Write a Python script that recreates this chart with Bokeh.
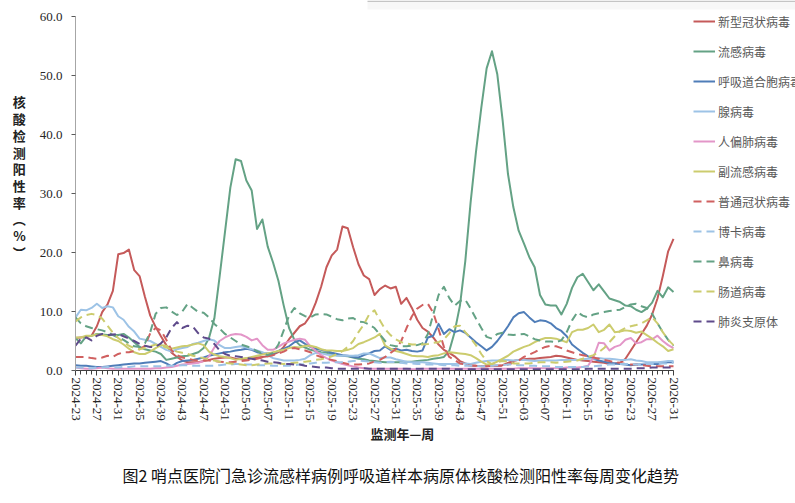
import math
from bokeh.plotting import figure
from bokeh.models import (Range1d, FixedTicker, Legend, LegendItem, Title, NumeralTickFormatter,
                          BoxAnnotation)
from bokeh.embed import file_html
from bokeh.resources import INLINE

# ---- categories (monitoring year-week) ----
week_labels = ([f"2024-{w:02d}" for w in range(23, 53)] +
               [f"2025-{w:02d}" for w in range(1, 53)] +
               [f"2026-{w:02d}" for w in range(1, 32)])

tick_labels = ["2024-23", "2024-27", "2024-31", "2024-35", "2024-39", "2024-43", "2024-47",
               "2024-51", "2025-03", "2025-07", "2025-11", "2025-15", "2025-19", "2025-23",
               "2025-27", "2025-31", "2025-35", "2025-39", "2025-43", "2025-47", "2025-51",
               "2026-03", "2026-07", "2026-11", "2026-15", "2026-19", "2026-23", "2026-27",
               "2026-31"]

y_ticks = [0, 10, 20, 30, 40, 50, 60]

# ---- series values (positive rate, %) ----
sars_cov2 = [5.5, 5.6, 5.7, 5.9, 7.5, 9.9, 11.2, 13.5, 19.7, 19.9,
             20.5, 17.0, 16.0, 12.5, 9.3, 7.4, 5.8, 4.3, 3.0, 2.3,
             1.7, 1.4, 1.4, 1.4, 1.6, 1.8, 2.0, 2.1, 2.2, 2.2,
             2.0, 1.9, 2.0, 2.1, 2.2, 2.3, 2.4, 2.7, 3.1, 4.0,
             5.3, 6.4, 7.5, 8.0, 9.3, 11.5, 14.2, 17.5, 19.5, 20.5,
             24.4, 24.1, 20.9, 18.0, 16.1, 15.5, 12.8, 13.8, 14.4, 13.9,
             14.2, 11.3, 12.3, 10.6, 8.6, 7.2, 6.6, 5.6, 4.4, 3.5,
             3.0, 2.4, 1.6, 1.2, 0.9, 0.8, 0.7, 0.7, 0.8, 0.8,
             0.9, 1.3, 1.6, 1.8, 1.9, 2.0, 2.0, 2.1, 2.2, 2.3,
             2.5, 2.4, 2.2, 2.0, 1.8, 1.7, 1.6, 1.5, 1.4, 1.3,
             1.1, 1.2, 1.3, 2.0, 3.4, 4.8, 6.2, 7.6, 9.5, 12.2,
             16.0, 20.2, 22.3]

influenza = [5.5, 4.6, 5.8, 5.9, 6.2, 6.1, 6.0, 6.0, 6.0, 6.2,
             5.6, 4.8, 4.0, 3.6, 3.4, 3.2, 2.8, 1.8, 2.0, 2.2,
             2.4, 2.5, 2.8, 3.1, 3.8, 5.5, 8.8, 16.0, 23.5, 31.0,
             35.8, 35.5, 32.2, 30.5, 24.0, 25.6, 21.0, 18.3, 15.2, 11.0,
             7.2, 5.2, 4.3, 3.9, 3.5, 3.3, 3.1, 3.0, 2.8, 2.6,
             2.5, 2.4, 2.2, 2.0, 1.9, 1.7, 1.6, 1.5, 1.4, 1.4,
             1.4, 1.4, 1.5, 1.5, 1.6, 1.7, 1.8, 2.0, 2.1, 2.3,
             3.3, 6.5, 11.0, 18.5, 28.5, 37.0, 44.5, 51.2, 54.1, 50.2,
             42.4, 33.3, 27.7, 23.7, 21.5, 19.2, 17.5, 12.8, 11.2, 11.0,
             11.0, 9.5, 11.3, 14.0, 15.8, 16.4, 15.0, 13.6, 14.6, 13.4,
             12.2, 11.9, 11.6, 11.0, 10.9, 10.3, 9.9, 10.5, 11.5, 13.5,
             12.4, 14.1, 13.3]

rsv = [0.9, 0.8, 0.8, 0.7, 0.6, 0.6, 0.7, 0.8, 0.9, 1.0,
       1.1, 1.2, 1.2, 1.3, 1.4, 1.5, 1.6, 1.2, 0.7, 1.3,
       1.6, 1.7, 1.8, 2.0, 2.2, 2.5, 2.7, 2.9, 3.1, 3.2,
       3.4, 3.5, 3.7, 3.5, 3.1, 2.9, 2.9, 2.9, 3.3, 3.7,
       4.1, 4.8, 5.1, 4.5, 4.0, 3.7, 3.5, 3.3, 3.0, 2.8,
       2.6, 2.5, 2.3, 2.2, 2.6, 2.9, 3.3, 3.4, 4.1, 3.5,
       3.7, 3.4, 3.5, 3.3, 3.2, 3.4, 5.6, 5.9, 7.9, 6.2,
       7.0, 6.5, 6.8, 6.4, 5.6, 4.8, 4.1, 3.4, 4.0, 5.0,
       6.2, 7.5, 9.0, 9.7, 9.9, 9.0, 8.2, 8.5, 8.4, 8.0,
       7.2, 6.7, 5.8, 4.4, 3.7, 3.0, 2.4, 2.0, 1.7, 1.5,
       1.3, 1.2, 1.1, 1.0, 0.9, 1.0, 1.0, 1.0, 1.1, 1.1,
       1.3, 1.4, 1.4]

adenovirus = [9.0, 10.3, 10.2, 10.6, 11.3, 10.6, 10.9, 10.7, 9.2, 8.6,
              7.4, 6.6, 5.4, 5.2, 5.0, 4.5, 4.0, 3.5, 3.2, 3.6,
              3.8, 4.0, 4.5, 4.7, 5.0, 5.3, 5.1, 4.3, 3.8, 3.8,
              4.0, 4.1, 3.9, 3.6, 3.4, 3.1, 2.6, 2.1, 1.9, 1.7,
              1.7, 1.7, 1.8, 2.0, 2.6, 3.0, 2.9, 2.7, 2.6, 2.5,
              2.5, 2.5, 2.5, 2.6, 2.9, 2.9, 2.5, 2.1, 2.2, 2.2,
              1.9, 1.7, 1.5, 1.4, 1.4, 1.4, 1.3, 1.2, 1.1, 1.1,
              1.1, 1.1, 1.2, 1.2, 1.1, 1.3, 1.5, 1.6, 1.7, 1.7,
              1.8, 1.8, 1.7, 1.8, 1.8, 1.7, 1.6, 1.7, 1.7, 1.7,
              1.7, 1.8, 1.8, 1.8, 1.8, 1.9, 2.0, 2.0, 2.1, 2.0,
              2.0, 1.9, 1.8, 1.8, 1.9, 1.7, 1.6, 1.4, 1.4, 1.4,
              1.5, 1.6, 1.6]

hmpv = [0.5, 0.4, 0.3, 0.3, 0.4, 0.5, 0.4, 0.3, 0.3, 0.3,
        0.3, 0.3, 0.3, 0.3, 0.3, 0.4, 0.4, 0.5, 0.6, 0.8,
        1.0, 1.1, 1.2, 1.3, 1.6, 2.4, 3.9, 5.0, 5.6, 6.0,
        6.2, 6.1, 5.7, 5.1, 5.4, 4.3, 3.5, 3.5, 4.0, 4.6,
        4.9, 5.2, 5.4, 5.2, 4.1, 3.3, 2.6, 2.1, 1.7, 1.4,
        1.1, 0.9, 0.7, 0.5, 0.4, 0.3, 0.3, 0.3, 0.3, 0.3,
        0.3, 0.3, 0.3, 0.2, 0.2, 0.3, 0.3, 0.3, 0.3, 0.3,
        0.3, 0.3, 0.3, 0.3, 0.3, 0.3, 0.3, 0.3, 0.3, 0.3,
        0.3, 0.3, 0.3, 0.4, 0.4, 0.4, 0.4, 0.4, 0.4, 0.4,
        0.4, 0.4, 0.5, 0.5, 0.5, 0.6, 0.8, 2.2, 4.7, 4.6,
        3.4, 4.0, 4.3, 5.2, 5.5, 4.6, 4.8, 5.3, 5.3, 5.9,
        5.0, 4.3, 3.8]

parainfluenza = [5.6, 5.6, 5.9, 5.9, 6.1, 6.0, 5.8, 5.3, 5.0, 4.4,
                 3.7, 3.1, 2.8, 2.8, 3.2, 3.8, 4.3, 4.2, 3.7, 3.9,
                 4.1, 4.2, 4.4, 4.6, 4.3, 3.2, 2.7, 2.4, 2.3, 2.1,
                 1.8, 2.0, 2.1, 2.3, 2.5, 2.7, 2.9, 3.1, 3.3, 3.5,
                 3.8, 4.0, 3.9, 4.2, 4.2, 4.0, 3.6, 3.4, 3.4, 3.3,
                 3.3, 3.5, 3.8, 4.5, 4.8, 5.2, 5.6, 6.2, 4.2, 3.7,
                 3.3, 3.1, 2.8, 2.5, 2.4, 2.4, 2.3, 2.5, 2.6, 2.9,
                 3.1, 3.0, 2.9, 2.8, 2.6, 2.1, 1.5, 1.0, 1.1, 1.5,
                 2.0, 2.5, 3.2, 3.6, 4.0, 4.3, 4.8, 5.2, 5.5, 5.5,
                 5.4, 5.1, 4.8, 6.5, 6.9, 6.9, 7.2, 7.8, 6.5, 6.9,
                 7.8, 6.5, 6.6, 6.8, 6.7, 6.4, 6.6, 6.0, 5.4, 4.7,
                 4.1, 3.3, 3.6]

seasonal_cov = [2.3, 2.3, 2.3, 2.1, 2.0, 2.2, 2.5, 2.3, 2.8, 3.1,
                3.1, 3.3, 3.6, 4.2, 6.3, 7.2, 6.8, 5.2, 3.4, 2.6,
                2.2, 2.0, 1.8, 1.7, 1.7, 1.7, 1.6, 1.5, 1.4, 1.4,
                1.5, 1.6, 1.7, 1.8, 2.0, 2.2, 2.4, 2.6, 2.9, 3.2,
                3.7, 3.8, 3.6, 3.4, 3.1, 2.6, 2.3, 2.0, 1.8, 1.6,
                1.3, 1.1, 1.0, 1.0, 1.1, 1.2, 1.5, 1.8, 2.3, 3.0,
                3.6, 5.0, 7.2, 9.2, 10.5, 11.1, 11.3, 9.8, 7.0, 4.0,
                2.3, 1.8, 1.2, 1.0, 0.8, 0.8, 0.7, 0.7, 0.8, 0.8,
                0.8, 1.0, 1.3, 1.7, 2.3, 2.7, 3.1, 3.6, 4.0, 4.2,
                4.1, 3.8, 3.4, 3.1, 2.8, 2.6, 2.4, 2.2, 2.0, 1.8,
                1.6, 1.4, 1.3, 1.1, 1.0, 1.0, 0.9, 0.8, 0.7, 0.7,
                0.7, 0.7, 0.7]

bocavirus = [0.5, 0.5, 0.4, 0.4, 0.5, 0.5, 0.6, 0.5, 0.5, 0.6,
             0.6, 0.7, 0.7, 0.7, 0.7, 0.7, 0.7, 0.8, 0.8, 0.8,
             0.9, 0.9, 0.8, 0.8, 0.8, 0.8, 0.8, 0.9, 1.0, 1.0,
             1.1, 1.1, 1.0, 1.0, 0.9, 0.9, 0.9, 0.8, 0.8, 0.8,
             0.8, 0.9, 1.0, 1.1, 1.2, 1.3, 1.3, 1.3, 1.4, 1.4,
             1.4, 1.5, 1.6, 1.7, 1.6, 1.5, 1.4, 1.3, 1.4, 1.5,
             1.4, 1.3, 1.2, 1.2, 1.1, 1.1, 1.0, 1.0, 1.0, 0.9,
             0.9, 0.9, 0.8, 0.8, 0.8, 0.8, 0.7, 0.7, 0.8, 0.9,
             0.9, 1.0, 1.0, 0.9, 0.9, 0.8, 0.8, 0.7, 0.7, 0.7,
             0.6, 0.6, 0.6, 0.6, 0.6, 0.6, 0.7, 0.7, 0.8, 0.9,
             1.0, 1.0, 1.1, 1.1, 1.1, 1.0, 1.0, 1.1, 1.1, 1.2,
             1.2, 1.2, 1.3]

rhinovirus = [9.0, 8.0, 7.5, 7.2, 7.0, 6.8, 6.5, 6.0, 5.6, 5.2,
              4.6, 4.1, 4.0, 4.6, 6.5, 9.6, 10.6, 10.7, 10.0, 9.4,
              10.0, 11.3, 10.6, 9.9, 9.8, 9.0, 7.9, 7.1, 6.2, 5.6,
              5.0, 4.4, 4.1, 3.8, 3.3, 2.9, 2.6, 3.0, 4.4, 6.8,
              9.3, 10.6, 9.7, 9.2, 9.0, 9.5, 9.6, 9.5, 9.1, 8.7,
              8.5, 8.8, 8.9, 8.3, 8.2, 7.8, 7.2, 6.1, 5.0, 4.3,
              4.1, 4.1, 4.1, 4.2, 4.3, 4.6, 6.2, 9.5, 12.8, 14.2,
              12.3, 11.0, 11.8, 12.0, 10.5, 8.8, 7.2, 5.7, 5.4, 6.2,
              6.4, 6.1, 6.0, 6.1, 6.2, 5.8, 5.3, 5.1, 4.9, 4.9,
              4.8, 5.1, 6.5, 8.5, 9.9, 9.3, 9.0, 9.5, 9.7, 9.9,
              10.1, 10.2, 10.3, 10.8, 11.2, 11.3, 10.9, 10.6, 9.6, 8.0,
              6.5, 5.2, 4.2]

enterovirus = [8.3, 9.0, 9.4, 9.6, 9.4, 8.8, 7.6, 6.4, 5.5, 4.8,
               4.2, 3.8, 3.6, 3.8, 4.1, 4.4, 4.2, 3.9, 3.6, 3.2,
               3.0, 2.8, 2.5, 2.3, 2.1, 1.9, 1.7, 1.5, 1.3, 1.2,
               1.1, 1.0, 0.9, 0.9, 1.0, 1.1, 1.2, 1.2, 1.2, 1.1,
               1.2, 1.3, 1.4, 1.5, 1.6, 1.8, 1.9, 2.1, 2.4, 2.8,
               3.3, 4.0, 5.0, 6.5, 7.8, 9.5, 10.2, 8.5, 7.0, 6.0,
               5.3, 4.8, 4.6, 4.4, 4.4, 4.4, 4.5, 4.7, 4.8, 5.3,
               6.3, 7.5, 7.6, 6.5, 5.5, 4.3, 2.8, 1.6, 1.1, 1.4,
               1.6, 1.5, 1.2, 1.2, 1.2, 1.2, 1.3, 1.4, 1.4, 1.4,
               1.3, 1.4, 1.5, 1.6, 1.7, 2.0, 2.3, 2.6, 3.1, 3.8,
               4.8, 5.8, 6.7, 7.2, 7.5, 7.7, 8.0, 8.5, 9.0, 8.0,
               6.5, 5.2, 4.3]

mycoplasma = [4.2, 5.4, 5.6, 5.1, 5.9, 6.2, 6.0, 6.1, 6.2, 5.8,
              5.4, 5.0, 4.5, 4.2, 4.0, 4.0, 4.6, 5.6, 7.2, 8.2,
              7.2, 7.6, 7.4, 6.3, 5.6, 5.4, 4.5, 3.4, 2.8, 2.5,
              2.4, 2.3, 2.1, 2.0, 1.8, 1.7, 1.5, 1.4, 1.3, 1.1,
              1.1, 1.0, 1.0, 0.8, 0.7, 0.6, 0.5, 0.5, 0.4, 0.3,
              0.3, 0.3, 0.3, 0.3, 0.4, 0.3, 0.3, 0.3, 0.3, 0.3,
              0.3, 0.3, 0.3, 0.3, 0.3, 0.3, 0.3, 0.3, 0.3, 0.3,
              0.3, 0.2, 0.2, 0.2, 0.2, 0.2, 0.2, 0.2, 0.2, 0.2,
              0.2, 0.2, 0.2, 0.2, 0.2, 0.2, 0.2, 0.2, 0.2, 0.2,
              0.2, 0.2, 0.2, 0.2, 0.2, 0.2, 0.3, 0.3, 0.3, 0.3,
              0.3, 0.3, 0.3, 0.3, 0.3, 0.4, 0.4, 0.4, 0.5, 0.5,
              0.5, 0.5, 0.5]

series_names = ["新型冠状病毒", "流感病毒", "呼吸道合胞病毒", "腺病毒", "人偏肺病毒", "副流感病毒",
                "普通冠状病毒", "博卡病毒", "鼻病毒", "肠道病毒", "肺炎支原体"]
series_values = [sars_cov2, influenza, rsv, adenovirus, hmpv, parainfluenza,
                 seasonal_cov, bocavirus, rhinovirus, enterovirus, mycoplasma]
series_colors = ["#C55A5A", "#64A285", "#4F7DB8", "#9DC3E6", "#E396C8", "#CCCC6E",
                 "#D06060", "#9DC3E6", "#64A285", "#CCCC6E", "#5F4B8B"]
series_dash = ["solid"] * 6 + ["8 5"] * 5

FONT_CJK = "Noto Sans CJK SC"
FONT_NUM = "Liberation Serif"

# page geometry (Bokeh page has no body margin): plot area from x=75 to the right edge,
# x axis drawn only over the data weeks; y axis drawn 0..60, frame extends to the top.
W, H = 795, 503
LEFT, BOTTOM_BORDER = 75, 133
axis_px = 598.0          # pixel length of the week axis
axis_top_px = 16.0       # pixel row of the 60.0 tick
frame_w = W - LEFT
frame_h = H - BOTTOM_BORDER
n_last = len(week_labels) - 1
y_max = max(y_ticks)
x_end = n_last * frame_w / axis_px
y_end = y_max * frame_h / (frame_h - axis_top_px)

p = figure(width=W, height=H, output_backend="svg", toolbar_location=None,
           x_range=Range1d(0, x_end), y_range=Range1d(0, y_end),
           min_border_left=LEFT, min_border_right=0, min_border_top=0,
           min_border_bottom=BOTTOM_BORDER)
p.outline_line_color = None
p.xgrid.grid_line_color = None
p.ygrid.grid_line_color = None
p.background_fill_color = "white"
p.border_fill_color = "white"

# faint page-frame edge seen at the very top of the screenshot
p.add_layout(BoxAnnotation(left=292, right=frame_w, top=frame_h - 1.5, bottom=frame_h - 9,
                           left_units="screen", right_units="screen", top_units="screen",
                           bottom_units="screen", fill_color="#f3f3f3", fill_alpha=0.7,
                           line_color=None, level="underlay"))
p.add_layout(BoxAnnotation(left=292, right=frame_w, top=frame_h, bottom=frame_h - 1.5,
                           left_units="screen", right_units="screen", top_units="screen",
                           bottom_units="screen", fill_color="#c4c4c4", fill_alpha=1.0,
                           line_color=None, level="underlay"))

xs = list(range(len(week_labels)))
items = []
for name, vals, color, dash in zip(series_names, series_values, series_colors, series_dash):
    r = p.line(xs, vals, line_color=color, line_width=2, line_dash=dash, line_join="round")
    items.append(LegendItem(label=name, renderers=[r]))

# x axis
xa = p.xaxis[0]
tick_pos = [week_labels.index(t) for t in tick_labels]
xa.ticker = FixedTicker(ticks=tick_pos, minor_ticks=xs)
xa.bounds = (0, n_last)
xa.major_label_overrides = {i: t for i, t in zip(tick_pos, tick_labels)}
xa.major_label_orientation = -math.pi / 2
xa.major_label_text_font = FONT_NUM
xa.major_label_text_font_size = "13px"
xa.major_label_text_color = "#262626"
xa.major_label_standoff = 2
xa.axis_line_color = "#404040"
xa.major_tick_line_color = "#404040"
xa.minor_tick_line_color = "#404040"
xa.major_tick_out = 5
xa.major_tick_in = 0
xa.minor_tick_out = 4
xa.minor_tick_in = 0

# y axis with stacked (upright) title
ya = p.yaxis[0]
ya.ticker = FixedTicker(ticks=y_ticks)
ya.bounds = (0, y_max)
ya.formatter = NumeralTickFormatter(format="0.0")
ya.major_label_text_font = FONT_NUM
ya.major_label_text_font_size = "13px"
ya.major_label_text_color = "#262626"
ya.major_label_standoff = 9
ya.axis_line_color = "#A6A6A6"
ya.major_tick_line_color = "#595959"
ya.major_tick_out = 4
ya.major_tick_in = 0
ya.minor_tick_line_color = None
ya.axis_label = "核\n酸\n检\n测\n阳\n性\n率\n︵\n%\n︶\n "
ya.axis_label_orientation = "horizontal"
ya.axis_label_text_font = FONT_CJK
ya.axis_label_text_font_size = "13px"
ya.axis_label_text_font_style = "bold"
ya.axis_label_text_color = "#222222"
ya.axis_label_text_line_height = 0.88
ya.axis_label_standoff = 11

legend = Legend(items=items, location=(618, 39), orientation="vertical",
                padding=0, margin=0, spacing=10, glyph_width=22, glyph_height=20,
                label_height=20, label_standoff=3,
                label_text_font=FONT_CJK, label_text_font_size="12px",
                label_text_color="#595959",
                border_line_color=None, background_fill_alpha=0)
p.add_layout(legend)

# x-axis title and caption below the axis
p.add_layout(Title(text="监测年—周", align="left", offset=295, standoff=0,
                   vertical_align="top",
                   text_font=FONT_CJK, text_font_size="13px", text_font_style="bold",
                   text_color="#222222"), "below")
p.add_layout(Title(text="图2 哨点医院门急诊流感样病例呼吸道样本病原体核酸检测阳性率每周变化趋势",
                   align="left", offset=47, standoff=33,
                   text_font=FONT_CJK, text_font_size="16px", text_font_style="normal",
                   text_color="#111111"), "below")

open("out.html", "w").write(file_html(p, INLINE))
